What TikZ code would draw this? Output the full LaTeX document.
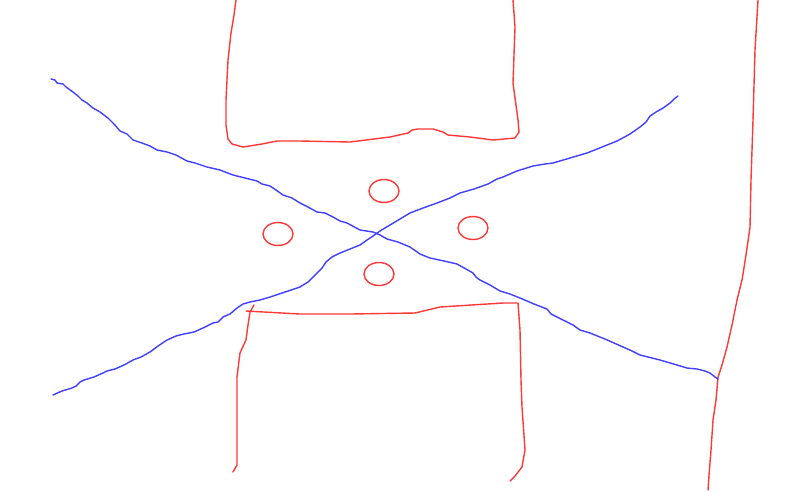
\documentclass[tikz,border=0pt]{standalone}
\usepackage{tikz}
\usepackage{xcolor}
\definecolor{redpen}{rgb}{1, 0.22, 0.22}
\definecolor{bluepen}{rgb}{0.25, 0.25, 1}

\begin{document}
\begin{tikzpicture}[x=0.02cm, y=-0.02cm, line width=0.8pt, line join=round, line cap=round]
\useasboundingbox (0, 0) rectangle (800, 491);
% top box
\draw [redpen] (236, 0) -- (234, 15) -- (231, 33) -- (228, 60) -- (226, 100) -- (226, 125) -- (228, 139) -- (232, 144) -- (243, 147) -- (262, 144) -- (277, 141) -- (300, 141) -- (350, 142) -- (390, 137) -- (408, 133) -- (412, 130) -- (418, 129) -- (433, 129) -- (443, 132) -- (448, 135) -- (470, 137) -- (493, 140) -- (515, 138) -- (519, 132) -- (518, 120) -- (513, 83) -- (515, 27) -- (513, 0);
% bottom box
\draw [redpen] (246, 311) -- (300, 314) -- (350, 314) -- (415, 313) -- (440, 307) -- (503, 303) -- (518, 303) -- (520, 330) -- (521, 380) -- (522, 407) -- (525, 450) -- (522, 467) -- (515, 476) -- (510, 481);
\draw [redpen] (254, 305) -- (250, 312) -- (248, 325) -- (246, 340) -- (240, 353) -- (237, 377) -- (237, 420) -- (237, 465) -- (233, 472);
% right line
\draw [redpen] (758, 0) -- (755, 50) -- (753, 120) -- (751, 180) -- (750, 227) -- (746, 255) -- (742, 280) -- (737, 300) -- (732, 325) -- (727, 347) -- (722, 365) -- (718, 377) -- (716, 400) -- (713, 420) -- (711, 450) -- (709, 475) -- (708, 490);
% holes
\draw [redpen] (384, 191) ellipse (15 and 11.5);
\draw [redpen] (278, 234) ellipse (15 and 11.5);
\draw [redpen] (473, 228) ellipse (15 and 11.5);
\draw [redpen] (379, 274) ellipse (15 and 11.5);
% crossing lines
\draw [bluepen] (51, 79) -- (55, 80) -- (57, 83) -- (63, 84) -- (66, 87) -- (73, 92) -- (78, 96) -- (82, 100) -- (87, 103) -- (93, 108) -- (100, 112) -- (108, 118) -- (114, 124) -- (120, 131) -- (127, 134) -- (133, 140) -- (142, 143) -- (150, 146) -- (157, 150) -- (167, 152) -- (176, 155) -- (187, 161) -- (195, 163) -- (207, 167) -- (220, 170) -- (233, 175) -- (245, 178) -- (257, 181) -- (262, 184) -- (270, 186) -- (276, 190) -- (283, 195) -- (292, 198) -- (300, 203) -- (308, 207) -- (317, 212) -- (325, 213) -- (333, 217) -- (340, 221) -- (347, 223) -- (360, 230) -- (373, 232) -- (380, 235) -- (387, 239) -- (398, 242) -- (410, 247) -- (420, 254) -- (430, 258) -- (444, 261) -- (457, 264) -- (466, 269) -- (473, 273) -- (476, 277) -- (480, 280) -- (490, 285) -- (500, 291) -- (510, 294) -- (520, 298) -- (534, 304) -- (547, 309) -- (551, 314) -- (557, 317) -- (565, 321) -- (573, 325) -- (580, 330) -- (590, 333) -- (605, 339) -- (623, 347) -- (632, 351) -- (640, 355) -- (660, 360) -- (677, 365) -- (687, 368) -- (697, 369) -- (705, 371) -- (710, 373) -- (715, 377) -- (718, 379);
\draw [bluepen] (53, 395) -- (62, 391) -- (72, 388) -- (76, 386) -- (80, 382) -- (84, 380) -- (94, 377) -- (103, 373) -- (107, 371) -- (115, 369) -- (124, 365) -- (133, 360) -- (141, 357) -- (150, 352) -- (158, 346) -- (167, 340) -- (176, 336) -- (184, 334) -- (194, 332) -- (203, 328) -- (213, 323) -- (218, 322) -- (223, 317) -- (230, 314) -- (237, 308) -- (243, 304) -- (250, 302) -- (260, 300) -- (270, 297) -- (285, 292) -- (300, 287) -- (308, 282) -- (313, 277) -- (318, 272) -- (322, 268) -- (326, 262) -- (332, 257) -- (340, 253) -- (350, 249) -- (360, 245) -- (367, 240) -- (373, 236) -- (380, 231) -- (390, 225) -- (400, 219) -- (410, 213) -- (423, 208) -- (437, 203) -- (450, 198) -- (460, 193) -- (474, 189) -- (488, 184) -- (497, 179) -- (503, 177) -- (517, 171) -- (533, 166) -- (545, 164) -- (553, 163) -- (570, 158) -- (587, 153) -- (602, 147) -- (617, 141) -- (630, 134) -- (640, 127) -- (646, 122) -- (650, 116) -- (656, 112) -- (663, 108) -- (670, 103) -- (674, 99) -- (678, 96);
\end{tikzpicture}
\end{document}
